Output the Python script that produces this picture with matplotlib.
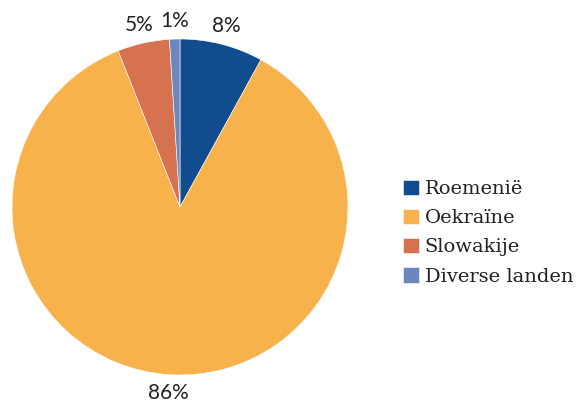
import matplotlib
matplotlib.use("Agg")
import matplotlib.pyplot as plt

categories = ["Roemenië", "Oekraïne", "Slowakije", "Diverse landen"]
values = [8, 86, 5, 1]
colors = ["#114C8E", "#F7B24C", "#D6724F", "#6C87BE"]

W, H = 581, 403
fig = plt.figure(figsize=(W / 100, H / 100), dpi=100)
cx, cy, r = 180, 207, 168
ax = fig.add_axes([(cx - r) / W, (H - cy - r) / H, 2 * r / W, 2 * r / H])

wedges, texts, autotexts = ax.pie(
    values, colors=colors, startangle=90, counterclock=False,
    autopct=lambda p: f"{p:.0f}%", pctdistance=1.11,
    wedgeprops=dict(linewidth=0.4, edgecolor="white"),
    textprops=dict(fontsize=15, family="Lato", color="#222222"),
)
for t in autotexts:
    t.set_clip_on(False)
ax.set_xlim(-1, 1)
ax.set_ylim(-1, 1)
ax.set_aspect("equal")

leg = fig.legend(
    wedges, categories, loc="upper left",
    bbox_to_anchor=(385 / W, 1 - 162 / H),
    frameon=False, handlelength=0.85, handleheight=0.85,
    handletextpad=0.3, labelspacing=0.55,
    prop=dict(family="DejaVu Serif", size=14),
)
for t in leg.get_texts():
    t.set_color("#222222")

fig.savefig("out.png", dpi=100)
